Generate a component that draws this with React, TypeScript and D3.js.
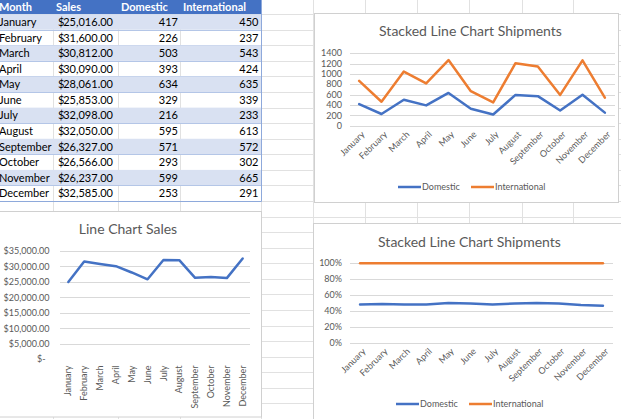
import React from "react";
import * as d3 from "d3";

const months = ["January", "February", "March", "April", "May", "June", "July", "August", "September", "October", "November", "December"];
const sales = [25016, 31600, 30812, 30090, 28061, 25853, 32098, 32050, 26327, 26566, 26237, 32585];
const domestic = [417, 226, 503, 393, 634, 329, 216, 595, 571, 293, 599, 253];
const international = [450, 237, 543, 424, 635, 339, 233, 613, 572, 302, 665, 291];
const headers = ["Month", "Sales", "Domestic", "International"];
const seriesNames = ["Domestic", "International"];
const shipTicks = [0, 200, 400, 600, 800, 1000, 1200, 1400];
const pctTicks = [0, 0.2, 0.4, 0.6, 0.8, 1];
const salesTicks = [0, 5000, 10000, 15000, 20000, 25000, 30000, 35000];

const FONT = "Lato, 'Open Sans', sans-serif";
const BLUE = "#4472C4";
const ORANGE = "#ED7D31";
const GRID = "#D9D9D9";
const LABEL = "#595959";
const SHEET = "#E1E1E1";

const ROW0 = 14.2;
const ROWH = 15.57;
const colLines = [53, 118, 180, 261, 313, 365, 417, 469, 522, 573];

const records = months.map((m, i) => ({ month: m, domestic: domestic[i], international: international[i] }));

function SheetGrid() {
  const rows: number[] = [];
  for (let y = ROW0; y < 419; y += ROWH) rows.push(Math.round(y) + 0.5);
  return (
    <g>
      {rows.map((y, i) => (
        <line key={"r" + i} x1={0} x2={621} y1={y} y2={y} stroke={SHEET} />
      ))}
      {colLines.map((x, i) => (
        <line key={"c" + i} x1={x + 0.5} x2={x + 0.5} y1={0} y2={419} stroke={SHEET} />
      ))}
    </g>
  );
}

function Table() {
  const fmt = d3.format(",.2f");
  return (
    <g fontFamily={FONT} fontSize={11}>
      <rect x={0} y={0} width={261} height={ROW0} fill={BLUE} />
      {[ -1, 56, 121, 183 ].map((x, i) => (
        <text key={i} x={x} y={11} fill="#fff" fontWeight="bold">{headers[i]}</text>
      ))}
      {months.map((m, i) => {
        const y0 = ROW0 + i * ROWH;
        const base = y0 + 11.8;
        return (
          <g key={m}>
            {i % 2 === 0 ? <rect x={0} y={y0} width={261} height={ROWH} fill="#D9E1F2" /> : null}
            <line x1={0} x2={261} y1={Math.round(y0 + ROWH) + 0.5} y2={Math.round(y0 + ROWH) + 0.5} stroke="#B4C6E7" />
            <text x={-1} y={base} fill="#000">{m}</text>
            <text x={58} y={base} fill="#000">$</text>
            <text x={113} y={base} fill="#000" textAnchor="end">{fmt(sales[i])}</text>
            <text x={178} y={base} fill="#000" textAnchor="end">{domestic[i]}</text>
            <text x={258.5} y={base} fill="#000" textAnchor="end">{international[i]}</text>
          </g>
        );
      })}
      <line x1={261.5} x2={261.5} y1={0} y2={201.5} stroke="#8EA9DB" />
      <line x1={0} x2={261.5} y1={201.5} y2={201.5} stroke="#8EA9DB" />
    </g>
  );
}

type StackProps = {
  box: [number, number, number, number];
  title: string;
  titleY: number;
  expand: boolean;
  yRange: [number, number];
  xRange: [number, number];
  gridX: [number, number];
  ticks: number[];
  tickFmt: (v: number) => string;
  legendY: number;
  legendX: [number, number];
};

function StackedChart(p: StackProps) {
  const stack = d3.stack<any>().keys(["domestic", "international"]);
  if (p.expand) stack.offset(d3.stackOffsetExpand);
  const layers = stack(records);
  const x = d3.scaleBand<string>().domain(months).range(p.xRange);
  const y = d3.scaleLinear().domain([0, p.expand ? 1 : 1400]).range(p.yRange);
  const line = d3
    .line<any>()
    .x((d) => (x(d.data.month) as number) + x.bandwidth() / 2)
    .y((d) => y(d[1]));
  const [bx, by, bw, bh] = p.box;
  const axisY = y(0);
  const colors = [BLUE, ORANGE];
  return (
    <g fontFamily={FONT}>
      <rect x={bx + 0.5} y={by + 0.5} width={bw} height={bh} fill="#fff" stroke="#D0D0D0" />
      <text x={(p.gridX[0] + p.gridX[1]) / 2 - 12} y={p.titleY} textAnchor="middle" fontSize={14} fill={LABEL}>{p.title}</text>
      {p.ticks.map((t) => (
        <g key={t}>
          <line x1={p.gridX[0]} x2={p.gridX[1]} y1={Math.round(y(t)) + 0.5} y2={Math.round(y(t)) + 0.5} stroke={GRID} />
          <text x={342} y={y(t)} dy="0.35em" textAnchor="end" fontSize={9} fill={LABEL}>{p.tickFmt(t)}</text>
        </g>
      ))}
      {months.map((m) => {
        const cx = (x(m) as number) + x.bandwidth() / 2;
        return (
          <text key={m} transform={`translate(${cx + 4},${axisY + 7}) rotate(-45)`} textAnchor="end" dy="0.35em" fontSize={9} fill={LABEL}>{m}</text>
        );
      })}
      {layers.map((L, i) => (
        <path key={i} d={line(L as any) as string} fill="none" stroke={colors[i]} strokeWidth={2.5} strokeLinejoin="round" strokeLinecap="round" />
      ))}
      {seriesNames.map((s, i) => (
        <g key={s}>
          <line x1={p.legendX[i]} x2={p.legendX[i] + 23} y1={p.legendY} y2={p.legendY} stroke={colors[i]} strokeWidth={2.5} />
          <text x={p.legendX[i] + 24} y={p.legendY} dy="0.35em" fontSize={9} fill={LABEL}>{s}</text>
        </g>
      ))}
    </g>
  );
}

function SalesChart() {
  const x = d3.scaleBand<string>().domain(months).range([60.4, 250.6]);
  const y = d3.scaleLinear().domain([0, 35000]).range([359.3, 251]);
  const money = d3.format("$,.2f");
  const line = d3
    .line<number>()
    .x((_, i) => (x(months[i]) as number) + x.bandwidth() / 2)
    .y((d) => y(d));
  return (
    <g fontFamily={FONT}>
      <rect x={-1} y={211.5} width={262.5} height={205.5} fill="#fff" stroke="#D0D0D0" />
      <text x={128} y={234} textAnchor="middle" fontSize={14} fill={LABEL}>Line Chart Sales</text>
      {salesTicks.map((t) => (
        <g key={t}>
          {t > 0 ? <line x1={60} x2={250} y1={Math.round(y(t)) + 0.5} y2={Math.round(y(t)) + 0.5} stroke={GRID} /> : null}
          <text x={t === 0 ? 45.5 : 49.5} y={y(t)} dy="0.35em" textAnchor="end" fontSize={9} fill={LABEL}>{t === 0 ? "$-" : money(t)}</text>
        </g>
      ))}
      {months.map((m) => {
        const cx = (x(m) as number) + x.bandwidth() / 2;
        return (
          <text key={m} transform={`translate(${cx},${365.5}) rotate(-90)`} textAnchor="end" dy="0.35em" fontSize={9} fill={LABEL}>{m}</text>
        );
      })}
      <path d={line(sales) as string} fill="none" stroke={BLUE} strokeWidth={2.5} strokeLinejoin="round" strokeLinecap="round" />
    </g>
  );
}

export default function App() {
  const pct = d3.format(".0%");
  return (
    <svg width={621} height={419} style={{ position: "absolute", left: 0, top: 0, background: "#fff" }}>
      <rect x={0} y={0} width={621} height={419} fill="#fff" />
      <SheetGrid />
      <Table />
      <StackedChart
        box={[314, 13, 304, 189]}
        title="Stacked Line Chart Shipments"
        titleY={36}
        expand={false}
        yRange={[125.7, 53.3]}
        xRange={[348, 616]}
        gridX={[350, 615]}
        ticks={shipTicks}
        tickFmt={(v) => String(v)}
        legendY={187}
        legendX={[398, 471]}
      />
      <SalesChart />
      <StackedChart
        box={[313, 223, 320, 210]}
        title="Stacked Line Chart Shipments"
        titleY={247}
        expand={true}
        yRange={[342.7, 263.3]}
        xRange={[349, 614]}
        gridX={[350, 613]}
        ticks={pctTicks}
        tickFmt={(v) => pct(v)}
        legendY={404}
        legendX={[396, 469]}
      />
    </svg>
  );
}
